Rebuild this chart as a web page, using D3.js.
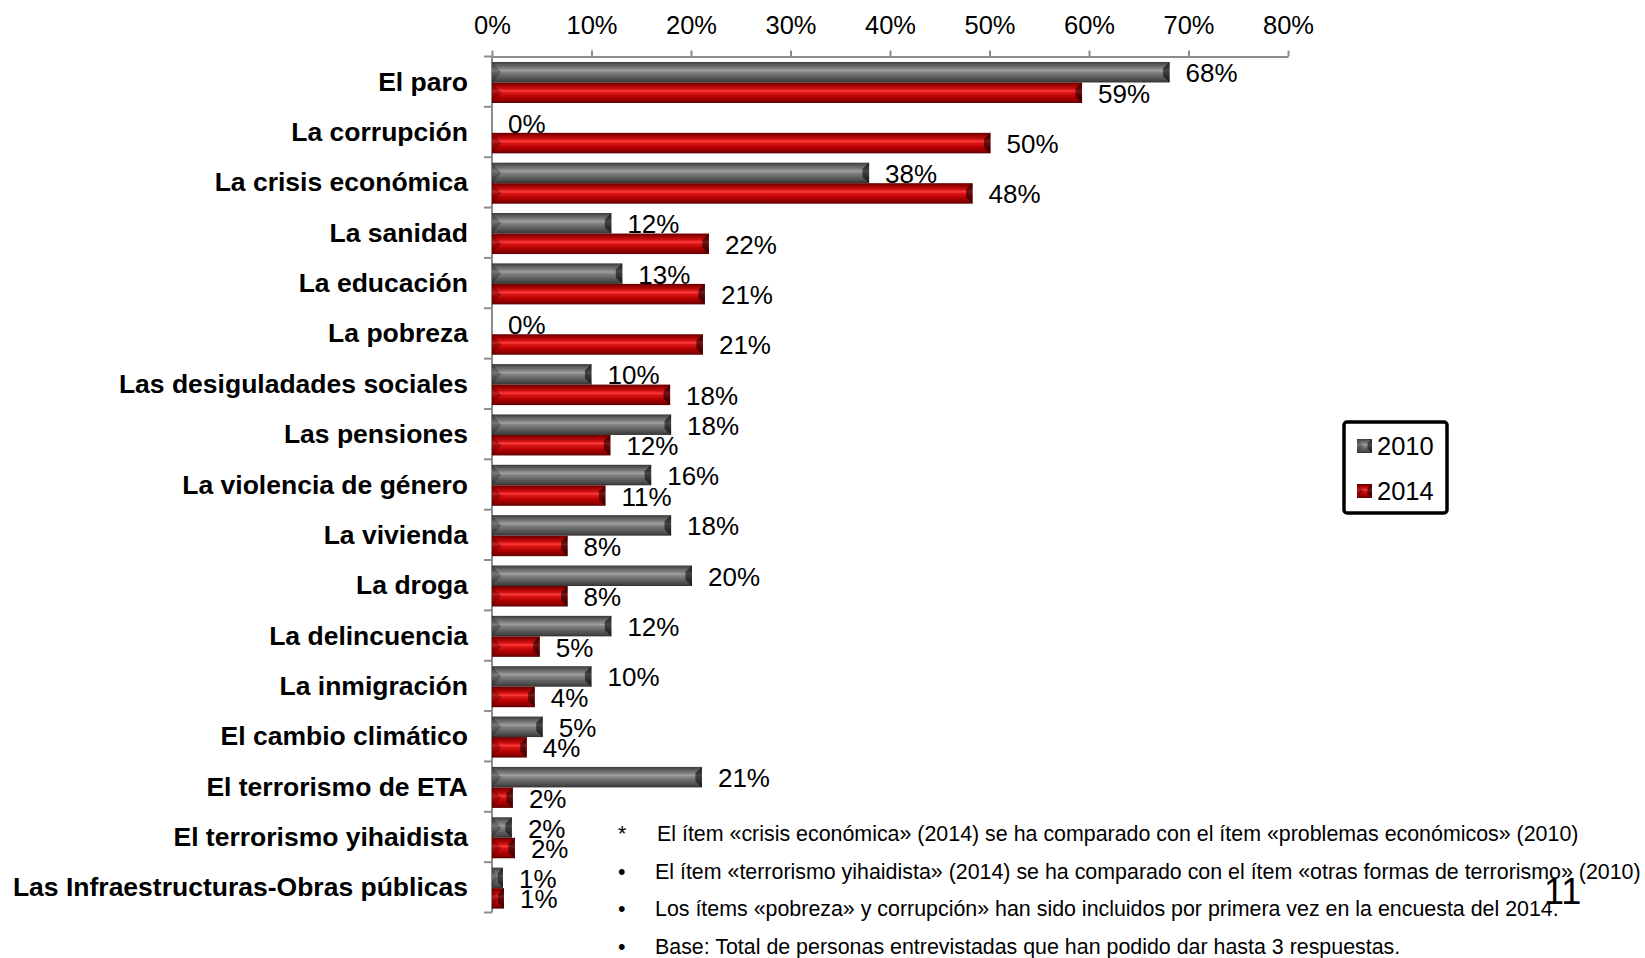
<!DOCTYPE html>
<html>
<head>
<meta charset="utf-8">
<script src="https://cdn.jsdelivr.net/npm/d3@7"></script>
<style>
  html, body { margin: 0; padding: 0; background: #fff; }
  svg { display: block; font-family: "Liberation Sans", Arial, sans-serif; }
</style>
</head>
<body>
<svg id="chart" width="1645" height="958"></svg>
<script>
const categories = [
  "El paro", "La corrupción", "La crisis económica", "La sanidad", "La educación",
  "La pobreza", "Las desiguladades sociales", "Las pensiones", "La violencia de género",
  "La vivienda", "La droga", "La delincuencia", "La inmigración", "El cambio climático",
  "El terrorismo de ETA", "El terrorismo yihaidista", "Las Infraestructuras-Obras públicas"
];
const values2010 = [68.1, 0, 37.9, 12.0, 13.1, 0, 10.0, 18.0, 16.0, 18.0, 20.1, 12.0, 10.0, 5.1, 21.1, 2.0, 1.1];
const values2014 = [59.3, 50.1, 48.3, 21.8, 21.4, 21.2, 17.9, 11.9, 11.4, 7.6, 7.6, 4.8, 4.3, 3.5, 2.1, 2.3, 1.2];
const seriesNames = ["2010", "2014"];
const tickValues = [0, 10, 20, 30, 40, 50, 60, 70, 80];
const footMarks = ["*", "•", "•", "•"];
const footnotes = [
  "El ítem «crisis económica» (2014) se ha comparado con el ítem «problemas económicos» (2010)",
  "El ítem «terrorismo yihaidista» (2014) se ha comparado con el ítem «otras formas de terrorismo» (2010)",
  "Los ítems «pobreza» y corrupción» han sido incluidos por primera vez en la encuesta del 2014.",
  "Base: Total de personas entrevistadas que han podido dar hasta 3 respuestas."
];
const pageNumber = "11";

const FONT = "'Liberation Sans', Arial, sans-serif";
const svg = d3.select("#chart");
const defs = svg.append("defs");

function grad(id, stops) {
  const g = defs.append("linearGradient").attr("id", id)
    .attr("x1", 0).attr("y1", 0).attr("x2", 0).attr("y2", 1);
  stops.forEach(([o, c]) => g.append("stop").attr("offset", o).attr("stop-color", c));
}
grad("g2010", [[0, "#383838"], [0.12, "#585858"], [0.3, "#7e7e7e"], [0.42, "#a0a0a0"], [0.5, "#848484"], [0.72, "#606060"], [0.9, "#474747"], [1, "#303030"]]);
grad("g2014", [[0, "#640000"], [0.12, "#980000"], [0.3, "#cc1010"], [0.42, "#ff3a3a"], [0.5, "#dc1616"], [0.72, "#b40000"], [0.9, "#860000"], [1, "#580000"]]);
const fills = { "2010": "url(#g2010)", "2014": "url(#g2014)" };

const x = d3.scaleLinear().domain([0, 80]).range([492, 1288]);
const y = d3.scaleBand().domain(categories).range([56.5, 912.5]);
const ySub = d3.scaleBand().domain(seriesNames)
  .range([0.8, y.bandwidth() + 0.8]).paddingInner(0).paddingOuter(0.228);

const axisColor = "#8c8c8c";

// Top axis
const topAxis = svg.append("g").attr("transform", `translate(0,${y.range()[0]})`)
  .call(d3.axisTop(x).tickValues(tickValues).tickFormat(d => d + "%").tickSize(6).tickSizeOuter(0));
topAxis.select(".domain").attr("stroke", axisColor).attr("stroke-width", 2);
topAxis.selectAll(".tick line").attr("stroke", axisColor).attr("stroke-width", 2);
topAxis.selectAll(".tick text").attr("font-size", 25.5).attr("fill", "#000")
  .attr("font-family", FONT).attr("y", -23);

// Left axis (ticks between categories)
const leftG = svg.append("g");
leftG.append("line").attr("x1", x(0)).attr("x2", x(0))
  .attr("y1", y.range()[0]).attr("y2", y.range()[1])
  .attr("stroke", axisColor).attr("stroke-width", 2);
const bounds = categories.map(c => y(c)).concat([y.range()[1]]);
leftG.selectAll("line.tk").data(bounds).join("line").attr("class", "tk")
  .attr("x1", x(0) - 8).attr("x2", x(0)).attr("y1", d => d).attr("y2", d => d)
  .attr("stroke", axisColor).attr("stroke-width", 2);
leftG.selectAll("text.cat").data(categories).join("text").attr("class", "cat")
  .attr("x", 468).attr("y", d => y(d) + y.bandwidth() / 2)
  .attr("text-anchor", "end").attr("dominant-baseline", "central")
  .attr("font-size", 26.5).attr("font-weight", "bold").attr("fill", "#000")
  .text(d => d);

// Bars
function drawBar(g, x0, x1, y0, h, series) {
  const w = x1 - x0;
  if (w <= 0) return;
  const y1 = y0 + h;
  g.append("rect").attr("x", x0).attr("y", y0).attr("width", w).attr("height", h)
    .attr("fill", fills[series]);
  const b = Math.min(h * 0.45, w / 2);
  g.append("polygon")
    .attr("points", [[x0, y0], [x0 + b, y0 + h / 2], [x0, y1]].map(p => p.join(",")).join(" "))
    .attr("fill", series === "2010" ? "rgba(0,0,0,0.25)" : "rgba(60,0,0,0.35)");
  const b2 = Math.min(h * 0.32, w / 2);
  g.append("polygon")
    .attr("points", [[x1, y0], [x1 - b2, y0 + h * 0.3], [x1 - b2, y1 - h * 0.3], [x1, y1]].map(p => p.join(",")).join(" "))
    .attr("fill", "rgba(0,0,0,0.55)");
}

const data = categories.map((c, i) => ({ cat: c, vals: [
  { s: "2010", v: values2010[i] }, { s: "2014", v: values2014[i] }
]}));

const barsG = svg.append("g");
data.forEach(d => {
  d.vals.forEach(e => {
    drawBar(barsG, x(0), x(e.v), y(d.cat) + ySub(e.s), ySub.bandwidth(), e.s);
  });
});

// Data labels
const labelsG = svg.append("g");
data.forEach(d => {
  d.vals.forEach(e => {
    labelsG.append("text")
      .attr("x", x(e.v) + 16)
      .attr("y", y(d.cat) + ySub(e.s) + ySub.bandwidth() / 2 + 1)
      .attr("dominant-baseline", "central")
      .attr("font-size", 26).attr("fill", "#000")
      .text(Math.round(e.v) + "%");
  });
});

// Legend
const leg = svg.append("g");
leg.append("rect").attr("x", 1344).attr("y", 422).attr("width", 103).attr("height", 91)
  .attr("rx", 3).attr("fill", "#fff").attr("stroke", "#000").attr("stroke-width", 3.5);
seriesNames.forEach((s, i) => {
  const cy = 446 + i * 45;
  drawBar(leg, 1357, 1372, cy - 7, 14, s);
  leg.append("text").attr("x", 1377).attr("y", cy).attr("dominant-baseline", "central")
    .attr("font-size", 25.5).attr("fill", "#000").text(s);
});

// Footnotes
const fn = svg.append("g");
footnotes.forEach((t, i) => {
  const cy = 834 + i * 37.7;
  fn.append("text").attr("x", 618).attr("y", cy).attr("dominant-baseline", "central")
    .attr("font-size", 21.4).attr("fill", "#000").text(footMarks[i]);
  fn.append("text").attr("x", i === 0 ? 657 : 655).attr("y", cy).attr("dominant-baseline", "central")
    .attr("font-size", 21.4).attr("fill", "#000").text(t);
});

// Page number
svg.append("text").attr("x", 1544).attr("y", 891).attr("dominant-baseline", "central")
  .attr("font-size", 36).attr("fill", "#000").text(pageNumber);
</script>
</body>
</html>
